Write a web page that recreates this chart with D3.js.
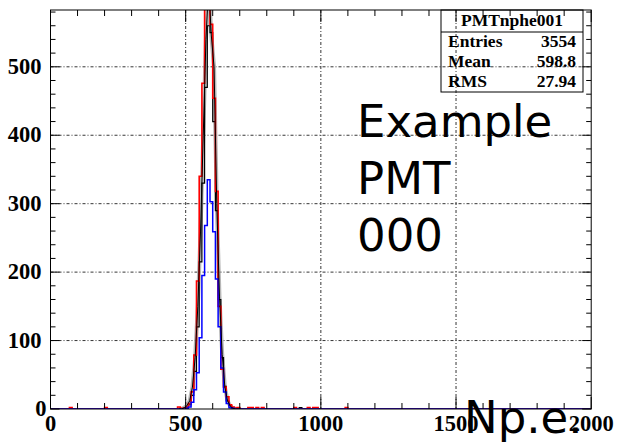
<!DOCTYPE html>
<html>
<head>
    <meta charset="utf-8">
    <script src="https://d3js.org/d3.v7.min.js"></script>
    <style type="text/css">
        body { margin: 0; background: #fff; }
        .lbl { font-family: "Liberation Serif", "Times New Roman", serif; font-weight: bold; font-size: 22.5px; fill: #000; }
        .stat { font-family: "Liberation Serif", "Times New Roman", serif; font-weight: bold; font-size: 17.5px; fill: #000; }
        .big { font-family: "DejaVu Sans", Verdana, sans-serif; font-size: 45px; fill: #000; }
        .grid line { stroke: #000; stroke-width: 0.8; stroke-dasharray: 3,2,1,2; }
        path.hist { fill: none; }
    </style>
</head>
<body>
<script>
    // histogram bins (lower edge, width 10) around the peak
    const binLow = [470, 480, 490, 500, 510, 520, 530, 540, 550, 560, 570, 580,
                    590, 600, 610, 620, 630, 640, 650, 660, 670, 680, 690, 700];
    const redCounts   = [3, 1, 1, 3, 8, 25, 79, 187, 340, 476, 640, 640,
                         562, 454, 318, 150, 58, 32, 18, 6, 3, 1, 2, 0];
    const blackCounts = [0, 0, 1, 2, 6, 20, 55, 120, 215, 330, 470, 560,
                         550, 420, 290, 160, 75, 33, 12, 5, 2, 1, 0, 0];
    const blueCounts  = [0, 0, 0, 1, 3, 10, 28, 53, 104, 195, 268, 335,
                         303, 259, 190, 120, 60, 25, 8, 2, 1, 0, 0, 0];
    // polyline through bin centres (gray band + thin black line)
    const lineCounts  = [0, 0, 2, 5, 12, 32, 75, 150, 260, 400, 540, 620,
                         545, 500, 300, 165, 80, 32, 12, 4, 1, 0, 0, 0];
    // isolated low-count bins far from the peak
    const redTailBins = [70, 200, 730, 740, 760, 780, 900, 950, 970, 980, 1090];
    const redTailCounts = [2, 2, 2, 2, 2, 2, 2, 2, 2, 2, 2];
    const blackTailBins = [920];
    const blackTailCounts = [2];

    const xTicks = [0, 500, 1000, 1500, 2000];
    const yTicks = [0, 100, 200, 300, 400, 500];
    const statsTitle = "PMTnphe001";
    const statsNames = ["Entries", "Mean", "RMS"];
    const statsValues = ["3554", "598.8", "27.94"];
    const noteLines = ["Example", "PMT", "000"];
    const xTitle = "Np.e.";

    const width = 617, height = 444;
    const pL = 50.5, pR = 591.2, pT = 10, pB = 409;
    const binW = 10;

    const svg = d3.select('body').append('svg')
        .attr('width', width)
        .attr('height', height);

    const x = d3.scaleLinear().domain([0, 2000]).range([pL, pR]);
    const y = d3.scaleLinear().domain([0, 583]).range([pB, pT]);

    svg.append('clipPath').attr('id', 'frame')
        .append('rect')
        .attr('x', pL).attr('y', pT)
        .attr('width', pR - pL).attr('height', pB - pT);

    // grid
    const grid = svg.append('g').attr('class', 'grid');
    grid.selectAll('line.gx').data(xTicks.slice(1, -1)).enter().append('line')
        .attr('x1', d => x(d)).attr('x2', d => x(d))
        .attr('y1', pT).attr('y2', pB);
    grid.selectAll('line.gy').data(yTicks.slice(1)).enter().append('line')
        .attr('x1', pL).attr('x2', pR)
        .attr('y1', d => y(d)).attr('y2', d => y(d));

    // big note text
    svg.selectAll('text.note').data(noteLines).enter().append('text')
        .attr('class', 'big')
        .attr('x', 357)
        .attr('y', (d, i) => 137 + i * 57)
        .text(d => d);

    // full 0..2000 bin arrays (empty bins are zero)
    function fullBins(bins, counts, tBins, tCounts) {
        const m = new Map();
        bins.forEach((b, i) => m.set(b, counts[i]));
        tBins.forEach((b, i) => m.set(b, tCounts[i]));
        const pts = [[0, 0]];
        d3.range(0, 2000, binW).forEach(lo => pts.push([lo, m.get(lo) || 0]));
        pts.push([2000, 0]);
        return pts;
    }

    const step = d3.line()
        .x(d => x(d[0]))
        .y(d => y(d[1]))
        .curve(d3.curveStepAfter);

    const plot = svg.append('g').attr('clip-path', 'url(#frame)');

    const centreLine = d3.line()
        .x((d, i) => x(binLow[i] + binW / 2))
        .y(d => y(d));

    plot.append('path')
        .attr('class', 'hist')
        .attr('d', centreLine(lineCounts))
        .attr('stroke', '#aaa')
        .attr('stroke-opacity', 0.85)
        .attr('stroke-width', 4);

    plot.append('path')
        .attr('class', 'hist')
        .attr('d', step(fullBins(binLow, blackCounts, blackTailBins, blackTailCounts)))
        .attr('stroke', '#000')
        .attr('stroke-width', 1.2);

    plot.append('path')
        .attr('class', 'hist')
        .attr('d', step(fullBins(binLow, redCounts, redTailBins, redTailCounts)))
        .attr('stroke', '#f00')
        .attr('stroke-width', 1.6);

    plot.append('path')
        .attr('class', 'hist')
        .attr('d', step(fullBins(binLow, blueCounts, [], [])))
        .attr('stroke', '#00f')
        .attr('stroke-width', 1.5);

    plot.append('path')
        .attr('class', 'hist')
        .attr('d', centreLine(lineCounts))
        .attr('stroke', '#000')
        .attr('stroke-width', 1);

    // frame + ticks (all four sides, ticks inward)
    const frame = svg.append('g').attr('stroke', '#000').attr('stroke-width', 1);
    frame.append('rect')
        .attr('x', pL).attr('y', pT)
        .attr('width', pR - pL).attr('height', pB - pT)
        .attr('fill', 'none');

    const xMinor = d3.range(0, 2001, 100);
    const yMinor = d3.range(0, 583, 20);
    xMinor.forEach(v => {
        const len = (v % 500 === 0) ? 12 : 6;
        frame.append('line').attr('x1', x(v)).attr('x2', x(v)).attr('y1', pB).attr('y2', pB - len);
        frame.append('line').attr('x1', x(v)).attr('x2', x(v)).attr('y1', pT).attr('y2', pT + len);
    });
    yMinor.forEach(v => {
        const len = (v % 100 === 0) ? 9 : 5;
        frame.append('line').attr('x1', pL).attr('x2', pL + len).attr('y1', y(v)).attr('y2', y(v));
        frame.append('line').attr('x1', pR).attr('x2', pR - len).attr('y1', y(v)).attr('y2', y(v));
    });

    // tick labels
    svg.selectAll('text.xl').data(xTicks).enter().append('text')
        .attr('class', 'lbl')
        .attr('x', d => x(d))
        .attr('y', 431)
        .attr('text-anchor', 'middle')
        .text(d => d);
    svg.selectAll('text.yl').data(yTicks).enter().append('text')
        .attr('class', 'lbl')
        .attr('x', d => d === 0 ? pL - 4 : pL - 9)
        .attr('y', d => y(d) + 7)
        .attr('text-anchor', 'end')
        .text(d => d);

    // stats box
    const bx0 = 441, bx1 = 583, by0 = pT, by1 = 92;
    const box = svg.append('g');
    box.append('rect')
        .attr('x', bx0).attr('y', by0)
        .attr('width', bx1 - bx0).attr('height', by1 - by0)
        .attr('fill', 'none').attr('stroke', '#000');
    box.append('line')
        .attr('x1', bx0).attr('x2', bx1).attr('y1', 32).attr('y2', 32)
        .attr('stroke', '#000');
    box.append('text').attr('class', 'stat')
        .attr('x', (bx0 + bx1) / 2).attr('y', 26)
        .attr('text-anchor', 'middle')
        .text(statsTitle);
    statsNames.forEach((n, i) => {
        box.append('text').attr('class', 'stat')
            .attr('x', bx0 + 7).attr('y', 47 + i * 20)
            .text(n);
        box.append('text').attr('class', 'stat')
            .attr('x', bx1 - 7).attr('y', 47 + i * 20)
            .attr('text-anchor', 'end')
            .text(statsValues[i]);
    });

    // axis title (overlaps the last tick labels, as in the original)
    svg.append('text')
        .attr('class', 'big')
        .attr('x', 464)
        .attr('y', 433)
        .text(xTitle);
</script>
</body>
</html>
